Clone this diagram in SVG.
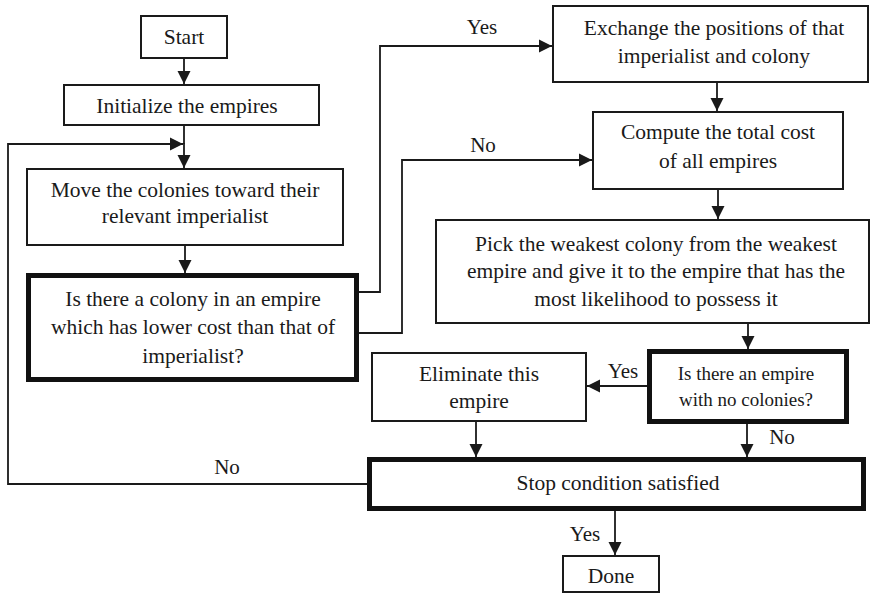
<svg xmlns="http://www.w3.org/2000/svg" width="872" height="596" viewBox="0 0 872 596">
  <style>
    .box { fill: #ffffff; stroke: #1a1a1a; stroke-width: 2; }
    .dec { fill: #ffffff; stroke: #111111; stroke-width: 5; }
    text { font-family: 'Liberation Serif', Tinos, 'Times New Roman', 'DejaVu Serif', serif; fill: #1a1a1a; text-anchor: middle; }
    .txt { font-size: 21.5px; }
    .sm { font-size: 19px; }
    .lbl { font-size: 21px; }
    .conn { fill: none; stroke: #1a1a1a; stroke-width: 1.8; }
    .arr { marker-end: url(#head); }
  </style>
  <defs>
    <marker id="head" markerUnits="userSpaceOnUse" markerWidth="14" markerHeight="14" refX="13" refY="7" orient="auto">
      <path d="M0,0.5 L13,7 L0,13.5 z" fill="#1a1a1a"/>
    </marker>
  </defs>

  <rect width="872" height="596" fill="#ffffff"/>

  <!-- connectors -->
  <g id="connectors" font-family="Liberation Serif, serif">
    <path class="conn arr" d="M184,59 V84"/>
    <path class="conn" d="M184,126 V144"/>
    <path class="conn arr" d="M184,143 V168"/>
    <path class="conn arr" d="M367,484 H8 V144 H183"/>
    <path class="conn arr" d="M185,246 V273"/>
    <path class="conn arr" d="M359,292 H380 V46 H552"/>
    <path class="conn arr" d="M359,333 H402 V160 H592"/>
    <path class="conn arr" d="M717,83 V111"/>
    <path class="conn arr" d="M718,190 V219"/>
    <path class="conn arr" d="M748,324 V349"/>
    <path class="conn arr" d="M647,386 H587"/>
    <path class="conn arr" d="M476,422 V457"/>
    <path class="conn arr" d="M747,424 V457"/>
    <path class="conn arr" d="M615,511 V555"/>
    <text class="lbl" x="482" y="34">Yes</text>
    <text class="lbl" x="483" y="152">No</text>
    <text class="lbl" x="623" y="378">Yes</text>
    <text class="lbl" x="782" y="444">No</text>
    <text class="lbl" x="227" y="474">No</text>
    <text class="lbl" x="585" y="541">Yes</text>
  </g>

  <g id="start">
    <rect class="box" x="141" y="16" width="86" height="42"/>
    <text class="txt" x="184" y="44">Start</text>
  </g>

  <g id="init">
    <rect class="box" x="64" y="85" width="255" height="40"/>
    <text class="txt" x="187" y="113">Initialize the empires</text>
  </g>

  <g id="move">
    <rect class="box" x="27" y="169" width="316" height="76"/>
    <text class="txt" x="185" y="197">Move the colonies toward their</text>
    <text class="txt" x="185" y="223">relevant imperialist</text>
  </g>

  <g id="cheaper-colony">
    <rect class="dec" x="28.5" y="275.5" width="328" height="104"/>
    <text class="txt" x="193" y="306">Is there a colony in an empire</text>
    <text class="txt" x="193" y="334">which has lower cost than that of</text>
    <text class="txt" x="193" y="363">imperialist?</text>
  </g>

  <g id="exchange">
    <rect class="box" x="553" y="6" width="315" height="76"/>
    <text class="txt" x="714" y="35">Exchange the positions of that</text>
    <text class="txt" x="714" y="63">imperialist and colony</text>
  </g>

  <g id="total-cost">
    <rect class="box" x="593" y="112" width="250" height="77"/>
    <text class="txt" x="718" y="139">Compute the total cost</text>
    <text class="txt" x="718" y="168">of all empires</text>
  </g>

  <g id="competition">
    <rect class="box" x="436" y="220" width="433" height="103"/>
    <text class="txt" x="656" y="251">Pick the weakest colony from the weakest</text>
    <text class="txt" x="656" y="278">empire and give it to the empire that has the</text>
    <text class="txt" x="656" y="306">most likelihood to possess it</text>
  </g>

  <g id="no-colonies">
    <rect class="dec" x="649.5" y="351.5" width="197" height="70"/>
    <text class="txt sm" x="746" y="380">Is there an empire</text>
    <text class="txt sm" x="746" y="406">with no colonies?</text>
  </g>

  <g id="eliminate">
    <rect class="box" x="372" y="353" width="214" height="68"/>
    <text class="txt" x="479" y="381">Eliminate this</text>
    <text class="txt" x="479" y="408">empire</text>
  </g>

  <g id="stop">
    <rect class="dec" x="369.5" y="459.5" width="494" height="49"/>
    <text class="txt" x="618" y="490">Stop condition satisfied</text>
  </g>

  <g id="done">
    <rect class="box" x="563" y="556" width="96" height="36"/>
    <text class="txt" x="611" y="583">Done</text>
  </g>
</svg>
